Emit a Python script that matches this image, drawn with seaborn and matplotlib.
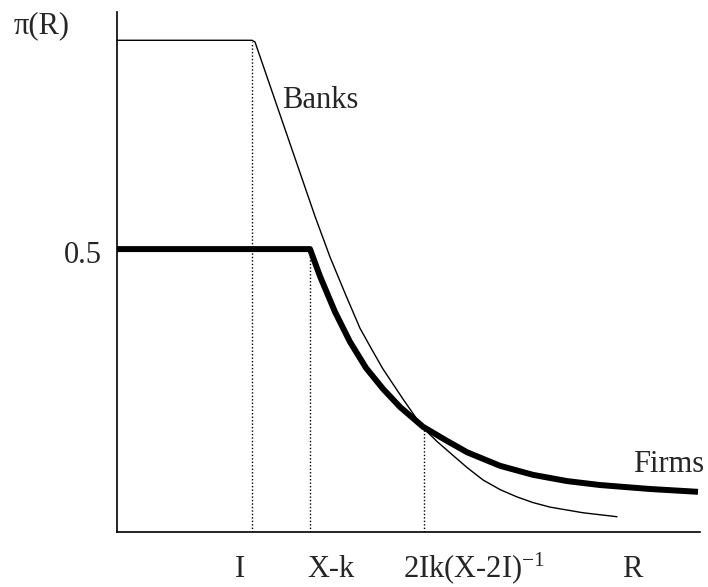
import matplotlib
matplotlib.use("Agg")
import matplotlib.pyplot as plt
import seaborn as sns
import pandas as pd

# curve points (x: R, y: pi(R))
banks_x = [0.00, 1.35, 1.38, 1.68, 1.98, 2.13, 2.28, 2.43, 2.55, 2.66, 2.86, 3.06,
           3.20, 3.33, 3.50, 3.66, 3.83, 4.00, 4.16, 4.33, 4.66, 5.00]
banks_y = [0.869, 0.869, 0.866, 0.712, 0.558, 0.486, 0.422, 0.360, 0.322, 0.288, 0.235, 0.184,
           0.160, 0.140, 0.114, 0.092, 0.075, 0.062, 0.052, 0.044, 0.034, 0.027]

firms_x = [0.00, 1.93, 2.03, 2.18, 2.33, 2.49, 2.66, 2.83, 3.06, 3.28, 3.50,
           3.83, 4.16, 4.50, 4.83, 5.33, 5.81]
firms_y = [0.500, 0.500, 0.452, 0.389, 0.336, 0.290, 0.253, 0.221, 0.186, 0.163, 0.141,
           0.117, 0.101, 0.090, 0.083, 0.076, 0.071]

# dotted guides: I, X-k, 2Ik(X-2I)^-1
guide_x = [1.35, 1.93, 3.07]
guide_top = [0.866, 0.500, 0.184]

x_labels = ["I", "X-k", "2Ik(X-2I)$^{-1}$", "R"]

sns.set_style("white")
plt.rcParams["font.family"] = ["Liberation Serif", "DejaVu Serif"]
plt.rcParams["mathtext.fontset"] = "custom"
plt.rcParams["mathtext.rm"] = "Liberation Serif"
plt.rcParams["mathtext.default"] = "rm"

W, H = 708, 587
fig = plt.figure(figsize=(W / 100, H / 100), dpi=100)
ax = fig.add_axes([117 / W, 1 - 532 / H, (700 - 117) / W, (532 - 12) / H])

banks = pd.DataFrame({"R": banks_x, "pi": banks_y})
firms = pd.DataFrame({"R": firms_x, "pi": firms_y})

sns.lineplot(data=banks, x="R", y="pi", sort=False, estimator=None,
             color="black", linewidth=1.0, ax=ax, clip_on=False)
sns.lineplot(data=firms, x="R", y="pi", sort=False, estimator=None,
             color="black", linewidth=4.3, ax=ax, clip_on=False,
             solid_capstyle="butt", solid_joinstyle="round")

ax.vlines(guide_x, 0, guide_top, colors="black", linestyles=(0, (1, 1.5)),
          linewidth=1.0)

ax.set_xlim(0, 5.83)
ax.set_ylim(0, 0.919)
ax.set_xticks([])
ax.set_yticks([])
ax.set_xlabel("")
ax.set_ylabel("")
sns.despine(ax=ax)
for s in ["left", "bottom"]:
    ax.spines[s].set_color("black")
    ax.spines[s].set_linewidth(1.2)

fs = 22
def ftext(x, y, s, **kw):
    fig.text(x / W, 1 - y / H, s, fontsize=fs, va="baseline", **kw)

ftext(42, 33, "\u03c0(R)", ha="center")
ftext(102, 263, "0.5", ha="right")
ftext(282, 108, "Banks", ha="left")
ftext(633, 472, "Firms", ha="left")

ftext(240, 577, x_labels[0], ha="center")
ftext(331, 577, x_labels[1], ha="center")
ftext(403, 577, x_labels[2], ha="left")
ftext(632, 577, x_labels[3], ha="center")

fig.savefig("out.png", dpi=100)
